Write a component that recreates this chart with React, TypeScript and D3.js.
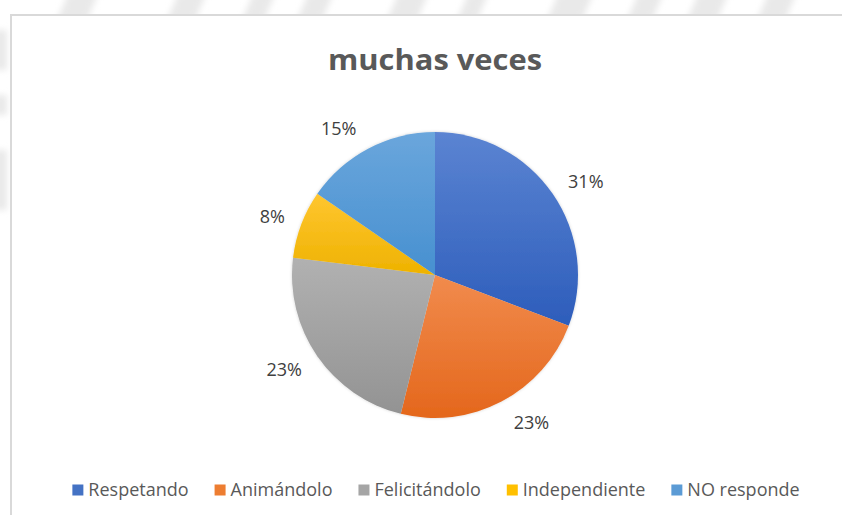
import React, { useMemo } from "react";
import * as d3 from "d3";

const title = "muchas veces";
const categories = ["Respetando", "Animándolo", "Felicitándolo", "Independiente", "NO responde"];
const counts = [4, 3, 3, 1, 2];
const percentLabels = ["31%", "23%", "23%", "8%", "15%"];
const colorsTop = ["#5b84d2", "#f18b4d", "#b1b1b1", "#ffc630", "#6aa6dc"];
const colorsBottom = ["#2d5dbb", "#e4671c", "#939393", "#eeb200", "#4790d0"];
const legendColors = ["#4472c4", "#ed7d31", "#a5a5a5", "#ffc000", "#5b9bd5"];

const W = 842;
const H = 515;
const CX = 435;
const CY = 275;
const R = 143;
const LABEL_FS = 18;

const FONT = "'Open Sans', 'Noto Sans', sans-serif";

function measure(text: string, font: string): number {
  const c = document.createElement("canvas");
  const ctx = c.getContext("2d");
  if (!ctx) return text.length * 9;
  ctx.font = font;
  return ctx.measureText(text).width;
}

const watermark = [
  [70, 0, 30], [180, 0, 28], [255, 0, 22], [310, 0, 25], [400, 0, 30],
  [470, 0, 20], [560, 0, 35], [640, 0, 25], [700, 0, 30], [770, 0, 28],
];

export default function App() {
  const arcs = useMemo(() => d3.pie<number>().sort(null).value((d) => d)(counts), []);
  const arcGen = d3.arc<d3.PieArcDatum<number>>().innerRadius(0).outerRadius(R);

  const labelFont = `${LABEL_FS}px ${FONT}`;
  const labels = arcs.map((a, i) => {
    const mid = (a.startAngle + a.endAngle) / 2;
    const sx = Math.sin(mid);
    const sy = -Math.cos(mid);
    const w = measure(percentLabels[i], labelFont);
    const x = (R + 9) * sx + Math.sign(sx) * (w / 2 + 8);
    const y = (R + 23) * sy;
    return { x, y, t: percentLabels[i] };
  });

  const legendFont = `18px ${FONT}`;
  const sq = 11;
  const sqGap = 5;
  const itemGap = 26;
  const widths = categories.map((c) => measure(c, legendFont));
  const itemWidths = widths.map((w) => sq + sqGap + w);
  const total = d3.sum(itemWidths) + itemGap * (categories.length - 1);
  let x0 = 436 - total / 2;
  const legendItems = categories.map((c, i) => {
    const x = x0;
    x0 += itemWidths[i] + itemGap;
    return { c, i, x };
  });

  return (
    <div style={{ position: "absolute", left: 0, top: 0 }}>
      <svg width={W} height={H} style={{ display: "block" }}>
        <defs>
          <filter id="blur" x="-50%" y="-50%" width="200%" height="200%">
            <feGaussianBlur stdDeviation="3" />
          </filter>
          {categories.map((c, i) => (
            <linearGradient key={c} id={`g${i}`} x1="0" y1="0" x2="0" y2="1">
              <stop offset="0%" stopColor={colorsTop[i]} />
              <stop offset="100%" stopColor={colorsBottom[i]} />
            </linearGradient>
          ))}
          <filter id="shadow" x="-20%" y="-20%" width="140%" height="140%">
            <feDropShadow dx="0" dy="0" stdDeviation="1.5" floodColor="#000" floodOpacity="0.18" />
          </filter>
        </defs>
        <rect x={0} y={0} width={W} height={H} fill="#ffffff" />
        <g filter="url(#blur)" fill="#e9e9e9">
          {watermark.map(([x, y, w], i) => (
            <polygon key={i} points={`${x},${y - 10} ${x + w},${y - 10} ${x + w - 14},${y + 22} ${x - 14},${y + 22}`} />
          ))}
          <rect x={-5} y={30} width={12} height={40} />
          <rect x={-5} y={95} width={12} height={20} />
          <rect x={-5} y={150} width={12} height={60} />
        </g>
        <rect x={11} y={15} width={W + 20} height={H + 20} fill="#ffffff" stroke="#d9d9d9" strokeWidth={2} />
        <text x={CX} y={70} textAnchor="middle" fontFamily={FONT} fontWeight="bold" fontSize={29} fill="#595959" textLength={214} lengthAdjust="spacingAndGlyphs">
          {title}
        </text>
        <g transform={`translate(${CX},${CY})`} filter="url(#shadow)">
          {arcs.map((a, i) => (
            <path key={i} d={arcGen(a) || ""} fill={`url(#g${i})`} />
          ))}
        </g>
        <g transform={`translate(${CX},${CY})`}>
          {labels.map((l, i) => (
            <text key={i} x={l.x} y={l.y} textAnchor="middle" dominantBaseline="central" fontFamily={FONT} fontSize={LABEL_FS} fill="#404040">
              {l.t}
            </text>
          ))}
        </g>
        <g>
          {legendItems.map(({ c, i, x }) => (
            <g key={c}>
              <rect x={x} y={484.5} width={sq} height={sq} fill={legendColors[i]} />
              <text x={x + sq + sqGap} y={496} fontFamily={FONT} fontSize={18} fill="#595959">
                {c}
              </text>
            </g>
          ))}
        </g>
      </svg>
    </div>
  );
}
